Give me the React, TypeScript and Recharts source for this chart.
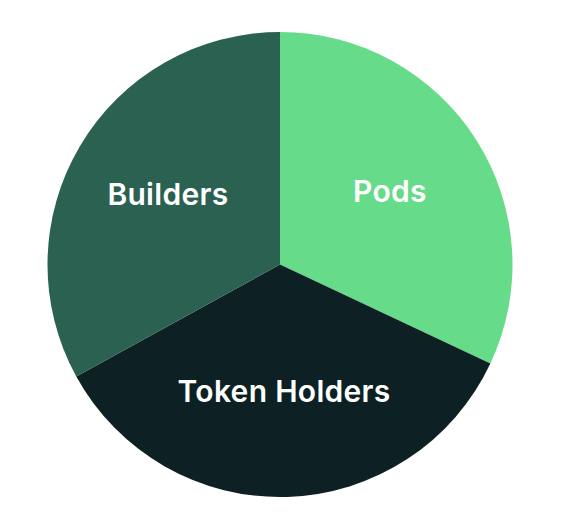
import React from "react";
import { PieChart, Pie, Cell } from "recharts";

const categories = ["Pods", "Token Holders", "Builders"];
const shares = [32, 35, 33];
const colors = ["#66DB89", "#0D2125", "#2A6150"];

const data = categories.map((name, i) => ({ name, value: shares[i] }));

const RADIAN = Math.PI / 180;

function renderLabel(props: any) {
  const { cx, cy, midAngle, outerRadius, name } = props;
  const r = outerRadius * 0.56;
  const x = cx + r * Math.cos(-midAngle * RADIAN);
  const y = cy + r * Math.sin(-midAngle * RADIAN) - 4;
  return (
    <text
      x={x}
      y={y}
      fill="#ffffff"
      textAnchor="middle"
      dominantBaseline="central"
      fontSize={30}
      fontWeight={600}
      letterSpacing={0.3}
      fontFamily="Inter, 'Noto Sans', sans-serif"
    >
      {name}
    </text>
  );
}

export default function App() {
  return (
    <PieChart width={554} height={512}>
      <Pie
        data={data}
        dataKey="value"
        nameKey="name"
        cx={267}
        cy={251.5}
        outerRadius={232.5}
        startAngle={90}
        endAngle={-270}
        stroke="none"
        label={renderLabel}
        labelLine={false}
        isAnimationActive={false}
      >
        {data.map((d, i) => (
          <Cell key={d.name} fill={colors[i]} />
        ))}
      </Pie>
    </PieChart>
  );
}
